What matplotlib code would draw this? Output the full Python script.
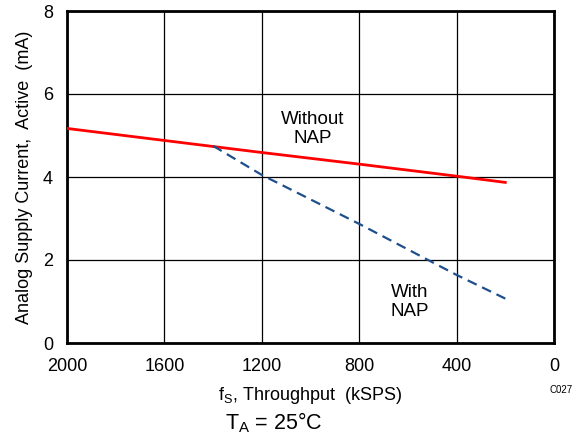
import matplotlib
matplotlib.use("Agg")
import matplotlib.pyplot as plt

plt.rcParams['font.family'] = ['Liberation Sans', 'DejaVu Sans']

# Without NAP
x_without = [2000, 1600, 1200, 800, 400, 200]
y_without = [5.17, 4.88, 4.59, 4.31, 4.02, 3.87]

# With NAP
x_with = [1400, 1200, 800, 400, 200]
y_with = [4.75, 4.05, 2.87, 1.64, 1.07]

xticks = [2000, 1600, 1200, 800, 400, 0]
yticks = [0, 2, 4, 6, 8]

fig = plt.figure(figsize=(5.79, 4.41), dpi=100)
ax = fig.add_axes([67 / 579, 1 - 343 / 441, 487 / 579, 332 / 441])

ax.plot(x_without, y_without, color="#ff0000", lw=2, zorder=3)
ax.plot(x_with, y_with, color="#1f4e8c", lw=1.6, ls=(0, (4.5, 2.7)), zorder=3)

ax.set_xlim(2000, 0)
ax.set_ylim(0, 8)
ax.set_xticks(xticks)
ax.set_yticks(yticks)
ax.grid(True, color="black", lw=0.9)
ax.tick_params(length=0, labelsize=13)
ax.tick_params(axis="x", pad=11)
ax.tick_params(axis="y", pad=10)
for s in ax.spines.values():
    s.set_linewidth(2)

ax.set_ylabel("Analog Supply Current,  Active  (mA)", fontsize=13, labelpad=7)

ax.text(990, 5.15, "Without\nNAP", ha="center", va="center", fontsize=13.5,
        linespacing=1.15)
ax.text(591, 0.99, "With\nNAP", ha="center", va="center", fontsize=13.5,
        linespacing=1.15)

fig.text(310 / 579, 1 - 395 / 441, r"f$_\mathregular{S}$, Throughput  (kSPS)",
         ha="center", va="center", fontsize=13)
fig.text(274 / 579, 1 - 423 / 441, r"T$_\mathregular{A}$ = 25°C",
         ha="center", va="center", fontsize=15.5)
fig.text(561 / 579, 1 - 390 / 441, "C027", ha="center", va="center", fontsize=7)

fig.savefig("out.png", dpi=100)
